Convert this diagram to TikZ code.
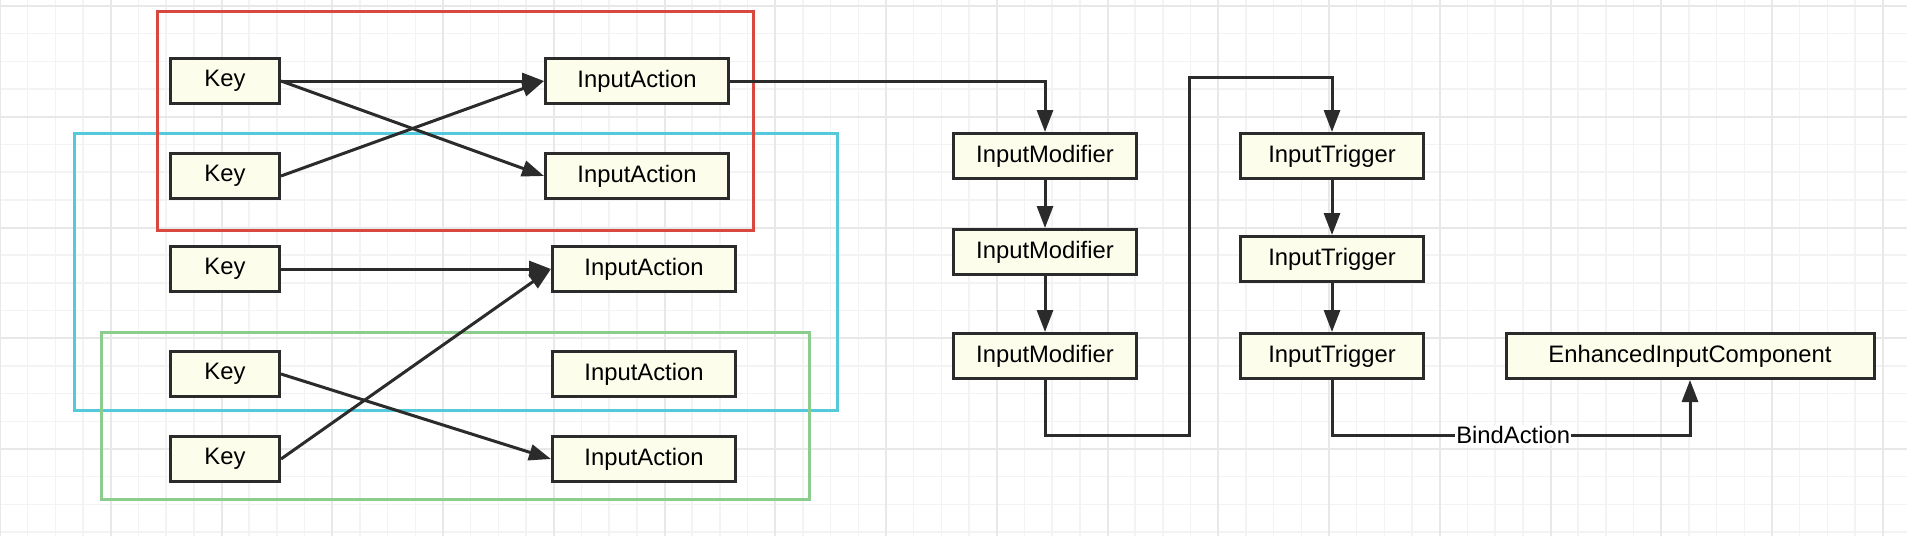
\documentclass[tikz,border=0pt]{standalone}
\usepackage{fontspec}
\setmainfont{Liberation Sans}
\usetikzlibrary{arrows.meta}

\definecolor{boxfill}{RGB}{253,253,236}
\definecolor{boxline}{RGB}{43,43,43}
\definecolor{redgroup}{RGB}{217,72,62}
\definecolor{cyangroup}{RGB}{84,201,219}
\definecolor{greengroup}{RGB}{140,204,140}
\definecolor{gridminor}{RGB}{243,243,243}
\definecolor{gridmajor}{RGB}{232,232,232}

\begin{document}
\begin{tikzpicture}[x=1pt,y=-1pt,
    block/.style={draw=boxline,fill=boxfill,line width=3pt,minimum height=45pt,
        inner sep=0pt,font=\fontsize{23.8}{28}\selectfont},
    keybox/.style={block,minimum width=109pt},
    actionbox/.style={block,minimum width=183pt},
    stagebox/.style={block,minimum width=183pt},
    link/.style={draw=boxline,line width=3pt,-{Triangle[length=22pt,width=16pt]}},
    group/.style={line width=3pt}]
    \useasboundingbox (0,0) rectangle (1907,536);
    \fill[white] (0,0) rectangle (1907,536);

    %grid
    \foreach \i in {0,...,69}
        \draw[gridminor,line width=1.5pt] (\i*27.6875,0) -- (\i*27.6875,536);
    \foreach \i in {0,...,19}
        \draw[gridminor,line width=1.5pt] (0,6+\i*27.6875) -- (1907,6+\i*27.6875);
    \foreach \i in {0,...,17}
        \draw[gridmajor,line width=2pt] (\i*110.75,0) -- (\i*110.75,536);
    \foreach \i in {0,...,4}
        \draw[gridmajor,line width=2pt] (0,6+\i*110.75) -- (1907,6+\i*110.75);

    %groups
    \draw[group,cyangroup] (74,133) rectangle (837,410);
    \draw[group,greengroup] (101,332) rectangle (809,499);
    \draw[group,redgroup] (157,11) rectangle (753,230);

    %keys and actions
    \node[keybox] (key1) at (225,81) {Key};
    \node[keybox] (key2) at (225,176) {Key};
    \node[keybox] (key3) at (225,269) {Key};
    \node[keybox] (key4) at (225,374) {Key};
    \node[keybox] (key5) at (225,459) {Key};

    \node[actionbox] (act1) at (637,81) {InputAction};
    \node[actionbox] (act2) at (637,176) {InputAction};
    \node[actionbox] (act3) at (644,269) {InputAction};
    \node[actionbox] (act4) at (644,374) {InputAction};
    \node[actionbox] (act5) at (644,459) {InputAction};

    %modifiers and triggers
    \node[stagebox] (mod1) at (1045,156) {InputModifier};
    \node[stagebox] (mod2) at (1045,252) {InputModifier};
    \node[stagebox] (mod3) at (1045,356) {InputModifier};

    \node[stagebox] (trig1) at (1332,156) {InputTrigger};
    \node[stagebox] (trig2) at (1332,259) {InputTrigger};
    \node[stagebox] (trig3) at (1332,356) {InputTrigger};

    \node[block,minimum width=368pt] (comp) at (1690,356) {EnhancedInputComponent};

    \coordinate (bendlow) at (1189,435);
    \coordinate (bendhigh) at (1189,77);
    \coordinate (bindturn) at (1332,435);

    %links
    \draw[link] (key1.east) -- (act1.west);
    \draw[link] (key1.east) -- (act2.west);
    \draw[link] (key2.east) -- (act1.west);
    \draw[link] (key3.east) -- (act3.west);
    \draw[link] (key5.east) -- (act3.west);
    \draw[link] (key4.east) -- (act5.west);

    \draw[link] (act1.east) -| (mod1.north);
    \draw[link] (mod1.south) -- (mod2.north);
    \draw[link] (mod2.south) -- (mod3.north);
    \draw[link] (mod3.south) |- (bendlow) -- (bendhigh) -| (trig1.north);
    \draw[link] (trig1.south) -- (trig2.north);
    \draw[link] (trig2.south) -- (trig3.north);
    \draw[link] (trig3.south) -- (bindturn) -| node[pos=0.253,fill=white,inner sep=1pt,
        font=\fontsize{23.8}{28}\selectfont] (bind) {BindAction} (comp.south);
\end{tikzpicture}
\end{document}
